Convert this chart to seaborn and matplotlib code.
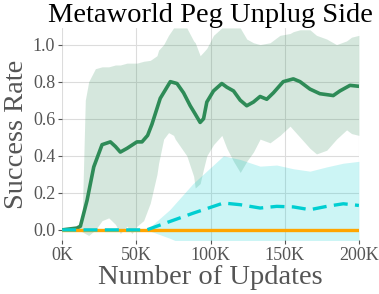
import matplotlib
matplotlib.use("Agg")
import matplotlib.pyplot as plt
import numpy as np
import pandas as pd
import seaborn as sns

# ---- data (updates in thousands) ----
green_x = [0, 10, 12.3, 16.8, 21.3, 26.9, 32.5, 35.9, 39.2, 43.7, 50.4, 53.8, 57.6,
           60.5, 66.1, 72.9, 77.4, 81.8, 86.3, 89.7, 93, 95.3, 97.5, 102, 107.6, 111,
           115.5, 120, 124.4, 128.9, 133.4, 137.9, 142.4, 149, 155.8, 160.3, 167,
           173.7, 178.3, 182.7, 187.2, 194, 200]
green_mean = [0.0, 0.01, 0.02, 0.16, 0.34, 0.46, 0.475, 0.45, 0.42, 0.44, 0.475, 0.475,
              0.51, 0.57, 0.71, 0.80, 0.79, 0.74, 0.67, 0.625, 0.58, 0.60, 0.69, 0.75,
              0.79, 0.77, 0.75, 0.70, 0.67, 0.69, 0.72, 0.705, 0.74, 0.80, 0.815, 0.80,
              0.76, 0.735, 0.73, 0.725, 0.75, 0.78, 0.775]

band_x = [0, 10, 13.4, 15.6, 17.9, 22.4, 26.9, 31.4, 35.9, 39.2, 43.7, 47, 50.4, 54.9,
          59.4, 63.9, 65, 68.4, 71.7, 75.1, 76.2, 84, 88.6, 89.7, 93, 95.3, 97.5, 102,
          107.6, 111, 115.5, 120, 124.4, 128.9, 133.4, 140.1, 146.8, 153.6, 155.8,
          160.3, 167, 171.4, 178.3, 184.9, 191.7, 195, 200]
band_hi = [0.0, 0.01, 0.03, 0.70, 0.80, 0.87, 0.88, 0.88, 0.89, 0.89, 0.90, 0.90, 0.90,
           0.91, 0.915, 0.94, 0.97, 1.0, 1.05, 1.09, 1.09, 1.09, 1.02, 1.01, 0.94, 0.96,
           0.98, 1.05, 1.09, 1.09, 1.09, 1.09, 1.03, 1.01, 1.0, 1.01, 1.05, 1.06, 1.07,
           1.08, 1.08, 1.05, 1.03, 1.0, 1.02, 1.04, 1.05]
band_lo = [0.0, 0.0, -0.01, -0.02, -0.03, 0.0, 0.05, 0.065, 0.03, -0.02, 0.02, -0.02,
           0.02, 0.05, 0.145, 0.30, 0.36, 0.49, 0.525, 0.51, 0.49, 0.40, 0.29, 0.226,
           0.25, 0.33, 0.40, 0.46, 0.51, 0.44, 0.37, 0.31, 0.37, 0.42, 0.49, 0.47, 0.51,
           0.56, 0.54, 0.50, 0.44, 0.41, 0.43, 0.49, 0.54, 0.52, 0.51]

cyan_x = [0, 57, 72.5, 88.2, 108.7, 120, 133.4, 144.6, 155.8, 167, 178.3, 189.5, 200]
cyan_mean = [0.0, 0.0, 0.045, 0.09, 0.145, 0.136, 0.118, 0.127, 0.124, 0.109, 0.127,
             0.141, 0.132]
cyan_hi = [0.0, 0.0, 0.109, 0.25, 0.40, 0.38, 0.344, 0.35, 0.33, 0.317, 0.34, 0.36, 0.37]
cyan_lo = [0.0, 0.0, -0.045, -0.1, -0.12, -0.1, -0.1, -0.1, -0.1, -0.1, -0.1, -0.1, -0.1]

orange_x = [0, 200]
orange_mean = [0.0, 0.0]

GREEN = "#2e8b57"
CYAN = "#00ced1"
ORANGE = "#ffa500"

sns.set_style("whitegrid", {"grid.color": "#dcdcdc", "axes.edgecolor": "white",
                            "xtick.bottom": True, "ytick.left": True})
plt.rcParams["font.family"] = ["Liberation Serif", "DejaVu Serif"]

fig, ax = plt.subplots(figsize=(3.79, 2.94), dpi=100)
fig.subplots_adjust(left=0.164, right=0.947, bottom=0.184, top=0.905)

to_k = lambda xs: np.array(xs) * 1000

ax.fill_between(to_k(band_x), band_lo, band_hi, color=GREEN, alpha=0.2, lw=0)
ax.fill_between(to_k(cyan_x), cyan_lo, cyan_hi, color=CYAN, alpha=0.2, lw=0)

df_g = pd.DataFrame({"x": to_k(green_x), "y": green_mean})
df_o = pd.DataFrame({"x": to_k(orange_x), "y": orange_mean})
df_c = pd.DataFrame({"x": to_k(cyan_x), "y": cyan_mean})
sns.lineplot(data=df_g, x="x", y="y", color=GREEN, lw=2.6, ax=ax)
sns.lineplot(data=df_o, x="x", y="y", color=ORANGE, lw=2.4, ax=ax)
sns.lineplot(data=df_c, x="x", y="y", color=CYAN, lw=2.4, ax=ax, dashes=False,
             linestyle=(0, (4.2, 2.2)))

ax.set_xlim(0, 200000)
ax.set_ylim(-0.054, 1.09)
ax.set_xticks([0, 50000, 100000, 150000, 200000])
ax.set_xticklabels(["0K", "50K", "100K", "150K", "200K"])
ax.set_yticks([0.0, 0.2, 0.4, 0.6, 0.8, 1.0])
ax.set_yticklabels(["0.0", "0.2", "0.4", "0.6", "0.8", "1.0"])
ax.tick_params(axis="both", labelsize=13, colors="#555555", length=3, width=0.8,
               pad=2)

ax.set_title("Metaworld Peg Unplug Side", fontsize=20.5, color="black", pad=4)
ax.set_xlabel("Number of Updates", fontsize=20.5, color="#555555", labelpad=1)
ax.set_ylabel("Success Rate", fontsize=20.5, color="#555555", labelpad=3)
sns.despine(ax=ax, left=True, bottom=True, top=True, right=True)

fig.savefig("out.png", dpi=100)
